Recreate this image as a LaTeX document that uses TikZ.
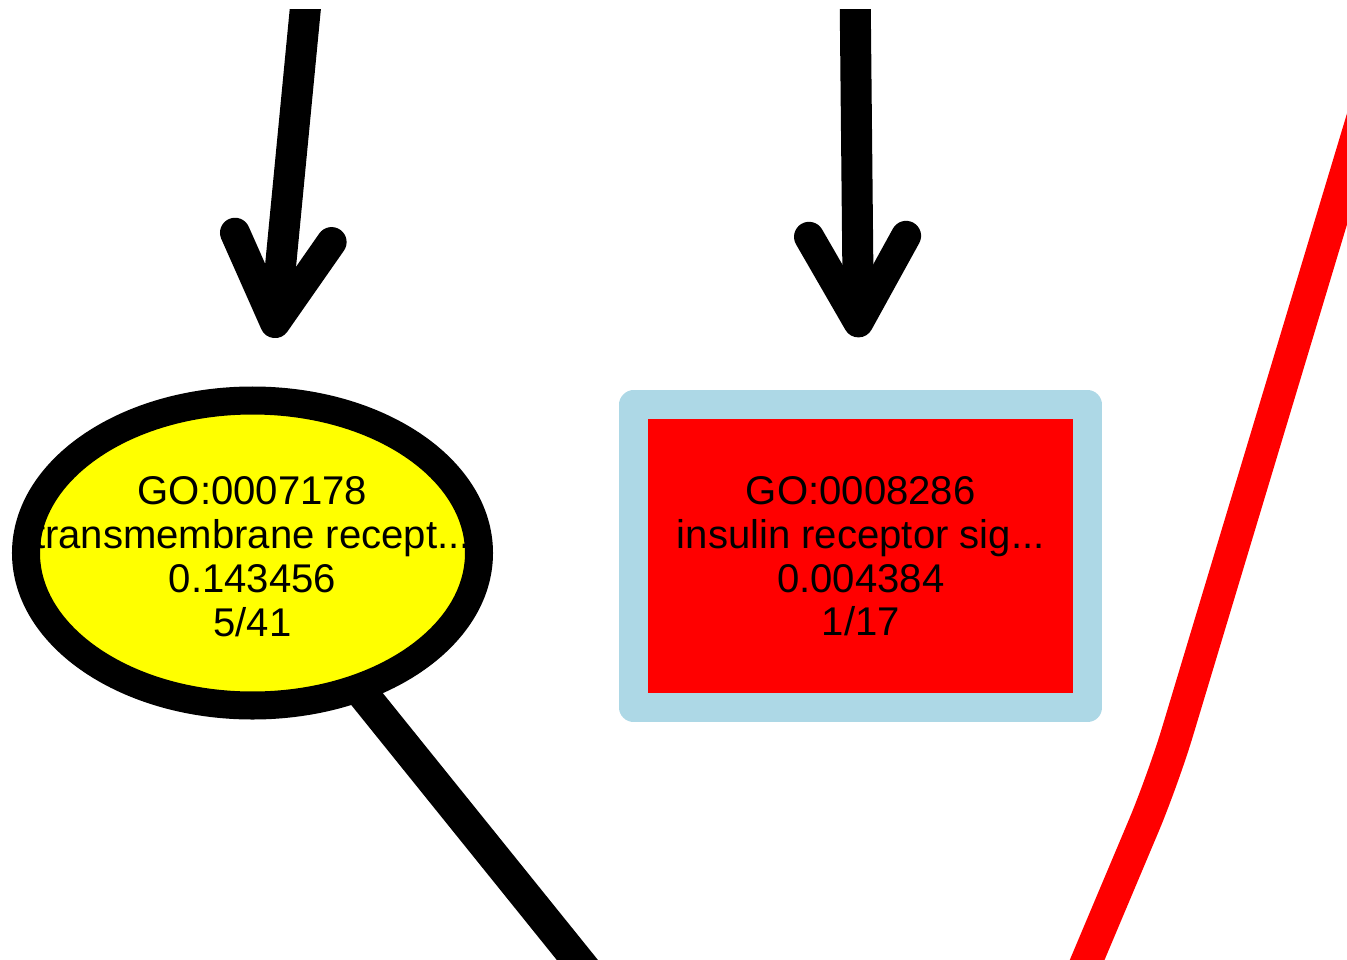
\documentclass[tikz,border=0pt]{standalone}
\usepackage{fontspec}
\setmainfont{Liberation Sans}
\usetikzlibrary{arrows.meta, shapes.geometric}
\definecolor{gvlightblue}{RGB}{173,216,230}
\definecolor{gvyellow}{RGB}{255,255,0}
\definecolor{gvred}{RGB}{255,0,0}

\begin{document}
\begin{tikzpicture}[
  x=0.01cm, y=-0.01cm,
  every node/.style={font=\fontsize{11.4}{12.5}\selectfont, align=center},
  goterm/.style={ellipse, fill=gvyellow, inner ysep=0pt, inner xsep=-20pt,
    outer sep=0.14cm, minimum width=4.53cm, minimum height=3.05cm},
  rim/.style={draw=black, line width=0.28cm},
  gobox/.style={rectangle, fill=gvred, draw=gvlightblue, line width=0.29cm,
    line join=round, inner sep=0pt, minimum width=4.535cm, minimum height=3.025cm},
  isa/.style={line width=0.31cm, line cap=round,
    -{Straight Barb[length=0.86cm, width=0.97cm, line width=0.3cm, round]}, shorten >=0.53cm},
  link/.style={line width=0.32cm},
  hot/.style={link, draw=gvred, line join=round, rounded corners=0.5cm}
]
\useasboundingbox (0,0) rectangle (1347,960);
\clip (0,9) rectangle (1347,960);

% Nodes
\node[goterm] (n7178) at (252.5,557) {GO:0007178\\transmembrane recept...\\0.143456\\5/41};
\node[gobox] (n8286) at (860.75,556.25) {GO:0008286\\insulin receptor sig...\\0.004384\\1/17};

% Ends of edges running off the page
\coordinate (upA) at (311,-50);
\coordinate (upB) at (854.7,-50);
\coordinate (downA) at (658,1060);
\coordinate (offR) at (1428,-100);
\coordinate (bendR) at (1163,780);
\coordinate (downR) at (1045,1060);

% Edges
\draw[isa] (upA) -- (n7178);
\draw[isa] (upB) -- (n8286);
\draw[link, shorten <=-0.12cm] (n7178) -- (downA);
\draw[hot] (offR) -- (bendR) -- (downR);

% Ellipse outline on top of text and edge ends
\draw[rim] (n7178.center) ++(0,-4) ellipse [x radius=226.5, y radius=152.5];

\end{tikzpicture}
\end{document}
